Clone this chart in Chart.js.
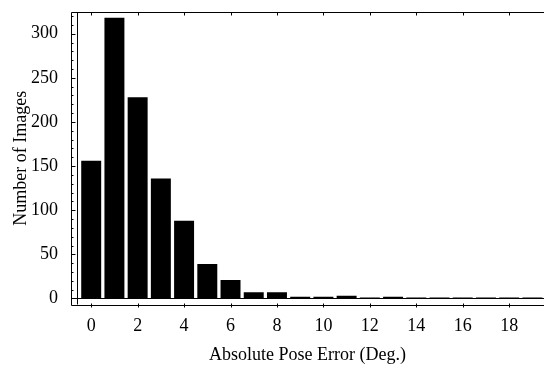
<!DOCTYPE html>
<html lang="en">
    <head>
        <meta charset="utf-8"/>
        <title>Absolute Pose Error</title>
        <script src="https://cdn.jsdelivr.net/npm/chart.js@4.4.1/dist/chart.umd.min.js"></script>
        <style>
            html, body { margin: 0; padding: 0; background: #fff; }
        </style>
    </head>
    <body>
            <div style="position: relative; width:544px; height:366px">
                <canvas id="hist"></canvas>
            </div>

            <script>
                // histogram bins (deg.) and counts
                const errorBins = [0, 1, 2, 3, 4, 5, 6, 7, 8, 9, 10, 11, 12, 13, 14, 15, 16, 17, 18, 19];
                const imageCounts = [156, 318, 228, 136, 88, 39, 21, 7, 7, 2, 2, 3, 1, 2, 1, 1, 1, 1, 1, 1];
                const xTickStep = 2;
                const yTickStep = 50;
                const yMinorStep = 10;

                const serif = 'Liberation Serif';

                // mathematica-like frame with inward ticks + axes lines
                const framePlugin = {
                    id: 'frame',
                    beforeDatasetsDraw(chart) {
                        const c = chart.ctx, a = chart.chartArea;
                        const x = chart.scales.x, y = chart.scales.y;
                        c.save();
                        c.strokeStyle = '#000';
                        c.lineWidth = 1;
                        c.beginPath();
                        const y0 = Math.round(y.getPixelForValue(0)) + 0.5;
                        c.moveTo(a.left, y0); c.lineTo(a.right, y0);
                        const xa = Math.round(x.getPixelForValue(-0.6)) + 0.5;
                        c.moveTo(xa, a.top); c.lineTo(xa, a.bottom);
                        c.stroke();
                        c.restore();
                    },
                    afterDraw(chart) {
                        const c = chart.ctx, a = chart.chartArea;
                        const x = chart.scales.x, y = chart.scales.y;
                        const L = Math.round(a.left) + 0.5, T = Math.round(a.top) + 0.5, B = Math.round(a.bottom) + 0.5;
                        c.save();
                        c.strokeStyle = '#000';
                        c.lineWidth = 1;
                        c.beginPath();
                        c.moveTo(a.right + 1, T); c.lineTo(L, T); c.lineTo(L, B); c.lineTo(a.right + 1, B);
                        for (let v = 0; v <= x.max; v += xTickStep) {
                            const px = Math.round(x.getPixelForValue(v)) + 0.5;
                            c.moveTo(px, T); c.lineTo(px, T + 3);
                            c.moveTo(px, B - 2); c.lineTo(px, B + 2);
                        }
                        for (let v = 0; v <= y.max; v += yMinorStep) {
                            const py = Math.round(y.getPixelForValue(v)) + 0.5;
                            const len = (v % yTickStep === 0) ? 4 : 2;
                            c.moveTo(L, py); c.lineTo(L + len, py);
                        }
                        c.stroke();
                        c.restore();
                    }
                };

                var ctx = document.getElementById('hist').getContext('2d');

                var chart = new Chart(ctx, {
                    type: 'bar',
                    data: {
                        datasets: [{
                            data: errorBins.map((b, i) => ({x: b, y: imageCounts[i]})),
                            backgroundColor: '#000',
                            borderWidth: 0,
                            barPercentage: 0.86,
                            categoryPercentage: 1
                        }]
                    },
                    plugins: [framePlugin],
                    options: {
                        responsive: true,
                        maintainAspectRatio: false,
                        animation: false,
                        layout: { padding: { top: 12, right: 0, left: 0, bottom: 0 } },
                        plugins: { legend: { display: false }, tooltip: { enabled: false } },
                        scales: {
                            x: {
                                type: 'linear',
                                offset: false,
                                min: -0.87,
                                max: 19.5,
                                grid: { display: false, offset: false },
                                border: { display: false },
                                afterFit(s) { s.height = 61.5; s.paddingLeft = 0; s.paddingRight = 0; },
                                ticks: {
                                    stepSize: xTickStep,
                                    includeBounds: false,
                                    padding: 3,
                                    color: '#000',
                                    maxRotation: 0,
                                    font: { family: serif, size: 18 }
                                },
                                title: {
                                    display: true,
                                    text: 'Absolute Pose Error (Deg.)',
                                    color: '#000',
                                    padding: { top: 0, bottom: 0 },
                                    font: { family: serif, size: 18 }
                                }
                            },
                            y: {
                                min: -6.8,
                                max: 324.6,
                                grid: { display: false },
                                border: { display: false },
                                afterFit(s) { s.width = 71; s.paddingTop = 0; s.paddingBottom = 0; },
                                ticks: {
                                    stepSize: yTickStep,
                                    includeBounds: false,
                                    padding: 5,
                                    color: '#000',
                                    font: { family: serif, size: 18 }
                                },
                                title: {
                                    display: true,
                                    text: 'Number of Images',
                                    color: '#000',
                                    padding: { top: 10, bottom: 0 },
                                    font: { family: serif, size: 18 }
                                }
                            }
                        }
                    }
                });
            </script>

    </body>
</html>
